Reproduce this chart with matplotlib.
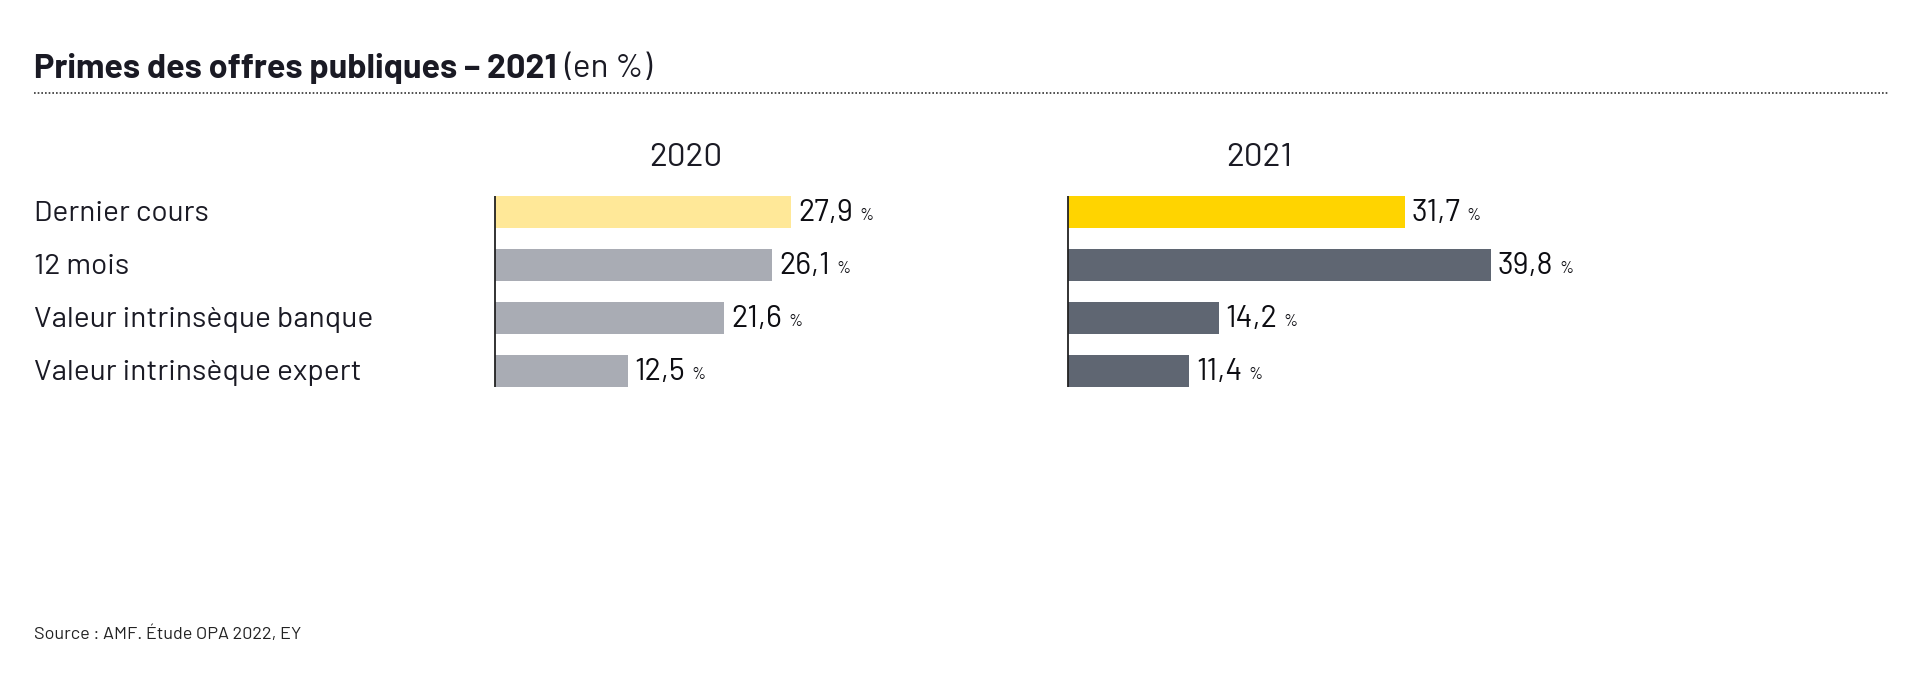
import matplotlib
matplotlib.use('Agg')
import matplotlib.pyplot as plt
from matplotlib.transforms import blended_transform_factory, offset_copy

# --- data ---
categories = ["Dernier cours", "12 mois", "Valeur intrinsèque banque", "Valeur intrinsèque expert"]
years = ["2020", "2021"]
values_2020 = [27.9, 26.1, 21.6, 12.5]
values_2021 = [31.7, 39.8, 14.2, 11.4]

colors_2020 = ["#FFE898", "#A9ACB4", "#A9ACB4", "#A9ACB4"]
colors_2021 = ["#FFD400", "#5F6672", "#5F6672", "#5F6672"]

plt.rcParams['font.family'] = ['Barlow', 'Roboto', 'DejaVu Sans']

W, H = 1920, 690
fig = plt.figure(figsize=(W / 100, H / 100), dpi=100)

TEXT = "#1A1A24"

# title
t = fig.text(34 / W, 1 - 69 / H, "Primes des offres publiques – 2021", fontsize=24.5,
             fontweight='bold', color=TEXT, va='center', ha='left')
fig.canvas.draw()
bb = t.get_window_extent()
fig.text(bb.x1 / W + 7 / W, 1 - 69 / H, "(en %)", fontsize=24, color=TEXT, va='center', ha='left')

# dotted separator
fig.add_artist(plt.Line2D([34 / W, 1888 / W], [1 - 93 / H, 1 - 93 / H], color="#333333",
                          linestyle=(0, (1, 1.2)), linewidth=1.2))

scale = 10.62  # px per unit
ax_w = 382
ax_top, ax_bot = 185.5, 397.5
lefts = [495, 1068]

for i, (year, vals, cols) in enumerate(zip(years, [values_2020, values_2021], [colors_2020, colors_2021])):
    left = lefts[i]
    ax = fig.add_axes([left / W, 1 - ax_bot / H, ax_w / W, (ax_bot - ax_top) / H])
    ax.set_xlim(0, ax_w / scale)
    ax.set_ylim(len(categories) - 0.5, -0.5)
    ax.axis('off')
    ypos = range(len(categories))
    ax.barh(ypos, vals, height=0.6, color=cols, clip_on=False)
    ax.vlines(0, -0.3, len(categories) - 0.7, color="#222222", linewidth=1.3, clip_on=False)
    ax.text(0.5, 1 + (ax_top - 158) / (ax_bot - ax_top), year, transform=ax.transAxes,
            ha='center', va='center', fontsize=24, color=TEXT)
    for y, v in zip(ypos, vals):
        num = ax.annotate(f"{v:.1f}".replace(".", ","), xy=(v, y), xytext=(5, -1),
                          textcoords='offset points', ha='left', va='center',
                          fontsize=22, color="#0D0D12", annotation_clip=False)
        ax.annotate("%", xy=(1, 0.14), xycoords=num, xytext=(4.5, 0), textcoords='offset points',
                    ha='left', va='bottom', fontsize=12, color="#0D0D12", annotation_clip=False)
    if i == 0:
        tr = offset_copy(blended_transform_factory(fig.transFigure, ax.transData),
                         fig=fig, y=-2, units='dots')
        for y, c in zip(ypos, categories):
            ax.text(34 / W, y, c, transform=tr, ha='left', va='center', fontsize=21.5, color=TEXT)

fig.text(34 / W, 1 - 634 / H, "Source : AMF. Étude OPA 2022, EY", fontsize=13,
         color="#222222", ha='left', va='center')

fig.savefig("out.png", dpi=100)
